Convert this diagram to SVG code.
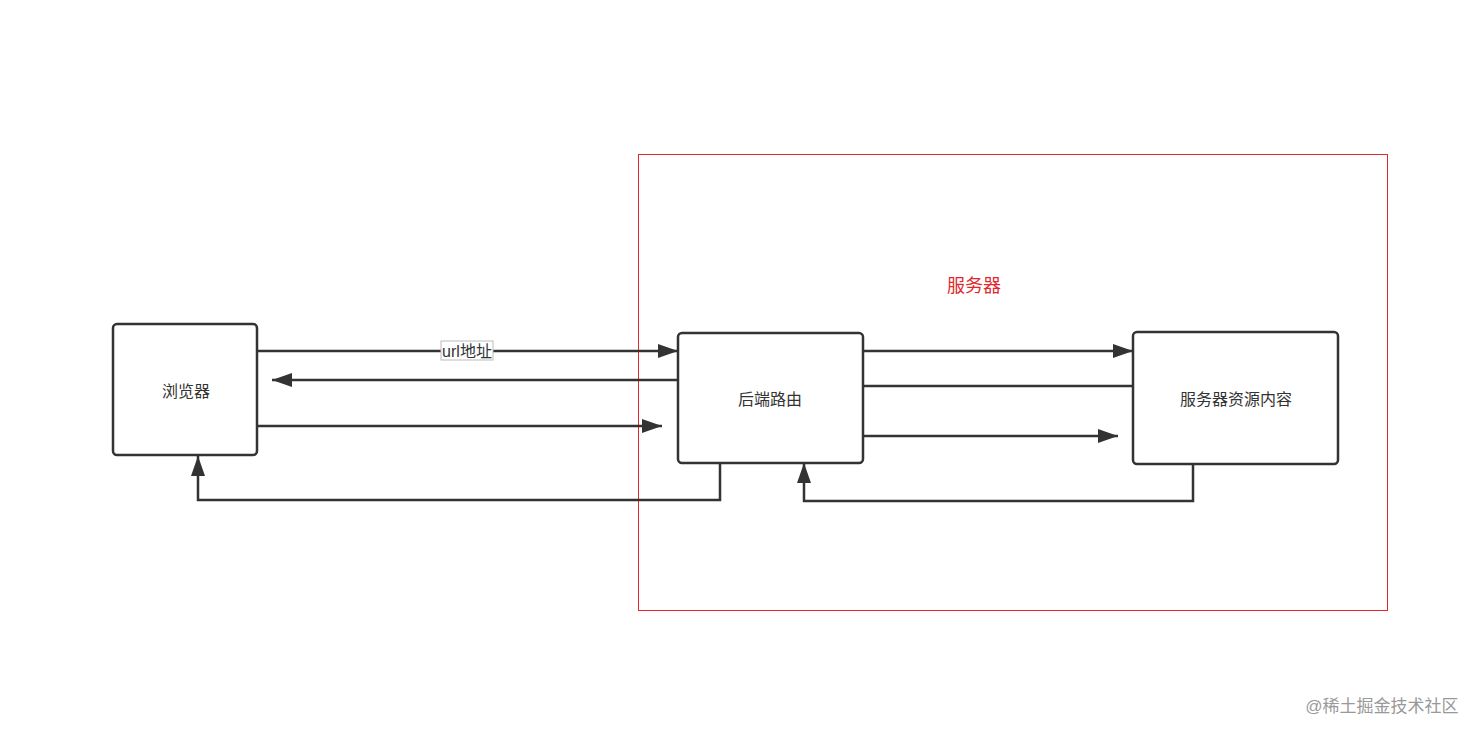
<svg xmlns="http://www.w3.org/2000/svg" width="1483" height="738" viewBox="0 0 1483 738">
<style>
.n{fill:#fff;stroke:#333;stroke-width:2.5}
.t{font-family:"Liberation Sans","Noto Sans CJK SC",sans-serif;font-size:16px;fill:#333;text-anchor:middle;dominant-baseline:central}
.c{fill:none;stroke:#333;stroke-width:2.5}
</style>
<defs>
<marker id="a" markerUnits="userSpaceOnUse" markerWidth="22" markerHeight="16" refX="20" refY="7" orient="auto"><path d="M0,0L20,7L0,14Z" fill="#333"/></marker>
</defs>
<rect width="1483" height="738" fill="#fff"/>
<g id="server"><rect x="638.5" y="154.5" width="749" height="456" fill="none" stroke="#e0282e" stroke-width="1"/>
<text x="974" y="286" class="t" style="fill:#e0282e;font-size:18px">服务器</text></g>
<g id="connectors">
<path class="c" d="M258,351H678" marker-end="url(#a)"/>
<path class="c" d="M678,380H272" marker-end="url(#a)"/>
<path class="c" d="M258,426H662" marker-end="url(#a)"/>
<path class="c" d="M720,463V500H198V456" marker-end="url(#a)"/>
<path class="c" d="M863,351H1133" marker-end="url(#a)"/>
<path class="c" d="M1133,386H805" marker-end="url(#a)"/>
<path class="c" d="M863,436H1118" marker-end="url(#a)"/>
<path class="c" d="M1193,464V501H804V463" marker-end="url(#a)"/>
<rect x="441" y="341" width="52" height="19" fill="#fff" stroke="#bbb" stroke-width="1"/>
<text x="467" y="351" class="t">url地址</text>
</g>
<g id="browser"><rect class="n" x="113" y="324" width="144" height="131" rx="4"/><text x="186" y="391" class="t">浏览器</text></g>
<g id="router"><rect class="n" x="678" y="333" width="185" height="130" rx="4"/><text x="770" y="399" class="t">后端路由</text></g>
<g id="resource"><rect class="n" x="1133" y="332" width="205" height="132" rx="4"/><text x="1236" y="399" class="t">服务器资源内容</text></g>
<text x="1382" y="706" class="t" style="fill:#999;font-size:17px">@稀土掘金技术社区</text>
</svg>
